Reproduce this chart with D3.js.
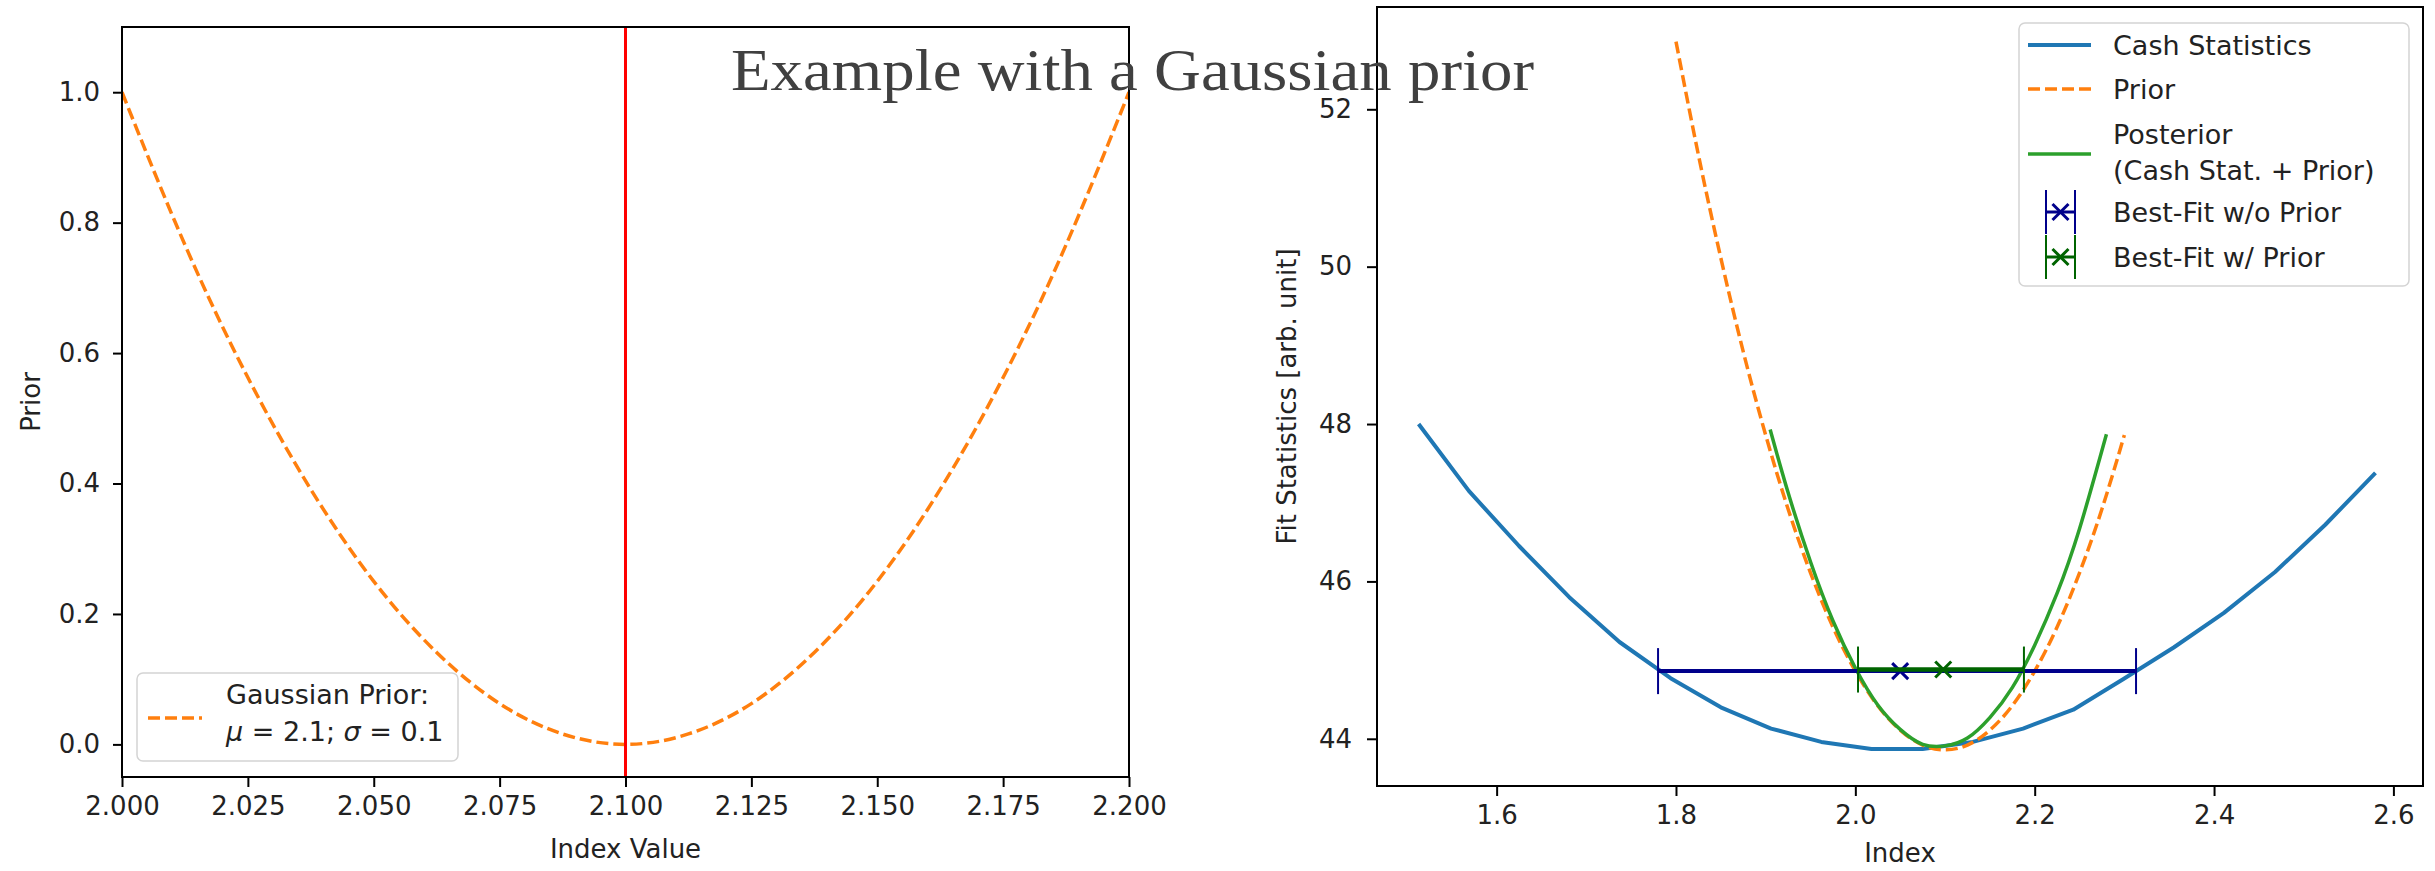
<!DOCTYPE html>
<meta charset="utf-8">
<style>
body { margin: 0; background: #fff; }
svg { display: block; }
.axis text { font: 26px "DejaVu Sans", sans-serif; fill: #222; }
.axis line { stroke: #000; stroke-width: 2px; }
.axis path { display: none; }
.frame { fill: none; stroke: #000; stroke-width: 2px; }
.lbl { font: 26px "DejaVu Sans", sans-serif; fill: #222; }
.leg text { font: 27px "DejaVu Sans", sans-serif; fill: #222; }
.legbox { fill: #fff; fill-opacity: 0.8; stroke: #d4d4d4; stroke-width: 1.5px; }
</style>
<body>
<svg width="2435" height="871"></svg>
<script src="https://d3js.org/d3.v7.min.js"></script>
<script>

// left panel: the prior alone
var priorIdx = [2.0, 2.0125, 2.025, 2.0375, 2.05, 2.0625, 2.075, 2.0875, 2.1,
                2.1125, 2.125, 2.1375, 2.15, 2.1625, 2.175, 2.1875, 2.2];
var priorVal = [1.0, 0.766, 0.5625, 0.391, 0.25, 0.141, 0.0625, 0.016, 0.0,
                0.016, 0.0625, 0.141, 0.25, 0.391, 0.5625, 0.766, 1.0];
var priorMean = 2.1;

// right panel: fit statistics
var cashIdx = [1.513, 1.569, 1.625, 1.681, 1.737, 1.794, 1.850, 1.906, 1.962, 2.018,
               2.075, 2.131, 2.187, 2.243, 2.299, 2.355, 2.411, 2.468, 2.524, 2.580];
var cashVal = [48.00, 47.15, 46.45, 45.80, 45.23, 44.77, 44.40, 44.13, 43.96, 43.87,
               43.87, 43.96, 44.13, 44.37, 44.76, 45.16, 45.60, 46.12, 46.72, 47.38];

var prIdx = [1.800, 1.825, 1.850, 1.875, 1.900, 1.925, 1.950, 1.975, 2.000, 2.025, 2.050,
             2.075, 2.100, 2.125, 2.150, 2.175, 2.200, 2.225, 2.250, 2.275, 2.300];
var prVal = [52.86, 51.42, 50.11, 48.92, 47.86, 46.92, 46.11, 45.42, 44.86, 44.42, 44.11,
             43.92, 43.86, 43.92, 44.11, 44.42, 44.86, 45.42, 46.11, 46.92, 47.86];

var postIdx = [1.905, 1.925, 1.950, 1.975, 2.000, 2.025, 2.050, 2.075, 2.100,
               2.125, 2.150, 2.175, 2.200, 2.225, 2.250, 2.280];
var postVal = [47.93, 47.13, 46.25, 45.50, 44.90, 44.43, 44.12, 43.93, 43.91,
               44.01, 44.27, 44.65, 45.19, 45.85, 46.67, 47.87];

// best fits: [center, low, high, statistic]
var fitNoPrior = [2.050, 1.780, 2.313, 44.86];
var fitPrior   = [2.098, 2.003, 2.188, 44.88];

var leftXTicks = [2.0, 2.025, 2.05, 2.075, 2.1, 2.125, 2.15, 2.175, 2.2];
var leftYTicks = [0.0, 0.2, 0.4, 0.6, 0.8, 1.0];
var rightXTicks = [1.6, 1.8, 2.0, 2.2, 2.4, 2.6];
var rightYTicks = [44, 46, 48, 50, 52];

var legendRight = ["Cash Statistics", "Prior", ["Posterior", "(Cash Stat. + Prior)"],
                   "Best-Fit w/o Prior", "Best-Fit w/ Prior"];

var C = {blue: "#1f77b4", orange: "#ff7f0e", green: "#2ca02c",
         navy: "#00008b", dgreen: "#006400", red: "#ff0000"};

var svg = d3.select("svg");
var defs = svg.append("defs");

function zip(a, b) { return a.map(function(v, i) { return [v, b[i]]; }); }

// ---------- left panel ----------
var L = {x0: 122, x1: 1129, y0: 27, y1: 777};
var xL = d3.scaleLinear().domain([2.0, 2.2]).range([L.x0, L.x1]),
    yL = d3.scaleLinear().domain([-0.05, 1.1]).range([L.y1, L.y0]);

defs.append("clipPath").attr("id", "clipL").append("rect")
    .attr("x", L.x0).attr("y", L.y0).attr("width", L.x1 - L.x0).attr("height", L.y1 - L.y0);

var gL = svg.append("g");

gL.append("g").attr("class", "axis")
    .attr("transform", "translate(0," + L.y1 + ")")
    .call(d3.axisBottom(xL).tickValues(leftXTicks).tickFormat(d3.format(".3f"))
      .tickSize(10).tickPadding(10));

gL.append("g").attr("class", "axis")
    .attr("transform", "translate(" + L.x0 + ",0)")
    .call(d3.axisLeft(yL).tickValues(leftYTicks).tickFormat(d3.format(".1f"))
      .tickSize(9).tickPadding(13));

var pL = gL.append("g").attr("clip-path", "url(#clipL)");

pL.append("path")
    .datum(zip(priorIdx, priorVal))
    .attr("fill", "none")
    .attr("stroke", C.orange)
    .attr("stroke-width", 3.5)
    .attr("stroke-dasharray", "12,5")
    .attr("d", d3.line().x(function(d) { return xL(d[0]); }).y(function(d) { return yL(d[1]); })
      .curve(d3.curveNatural));

pL.append("line")
    .attr("x1", xL(priorMean)).attr("x2", xL(priorMean))
    .attr("y1", L.y0).attr("y2", L.y1)
    .attr("stroke", C.red).attr("stroke-width", 3);

gL.append("rect").attr("class", "frame")
    .attr("x", L.x0).attr("y", L.y0).attr("width", L.x1 - L.x0).attr("height", L.y1 - L.y0);

gL.append("text").attr("class", "lbl")
    .attr("x", (L.x0 + L.x1) / 2).attr("y", 858)
    .attr("text-anchor", "middle").text("Index Value");

gL.append("text").attr("class", "lbl")
    .attr("transform", "translate(40," + (L.y0 + L.y1) / 2 + ") rotate(-90)")
    .attr("text-anchor", "middle").text("Prior");

// left legend
var legL = gL.append("g").attr("class", "leg");
legL.append("rect").attr("class", "legbox")
    .attr("x", 137).attr("y", 673).attr("width", 321).attr("height", 88).attr("rx", 6);
legL.append("line")
    .attr("x1", 148).attr("x2", 202).attr("y1", 718).attr("y2", 718)
    .attr("stroke", C.orange).attr("stroke-width", 3.5).attr("stroke-dasharray", "12,5");
legL.append("text").attr("x", 226).attr("y", 704).text("Gaussian Prior:");
var mt = legL.append("text").attr("x", 226).attr("y", 741);
mt.append("tspan").attr("font-style", "italic").text("\u03bc");
mt.append("tspan").text(" = 2.1; ");
mt.append("tspan").attr("font-style", "italic").text("\u03c3");
mt.append("tspan").text(" = 0.1");

// ---------- right panel ----------
var R = {x0: 1377, x1: 2423, y0: 7, y1: 786};
var xR = d3.scaleLinear().domain([1.4666, 2.633]).range([R.x0, R.x1]),
    yR = d3.scaleLinear().domain([43.40, 53.30]).range([R.y1, R.y0]);

defs.append("clipPath").attr("id", "clipR").append("rect")
    .attr("x", R.x0).attr("y", R.y0).attr("width", R.x1 - R.x0).attr("height", R.y1 - R.y0);

var gR = svg.append("g");

gR.append("g").attr("class", "axis")
    .attr("transform", "translate(0," + R.y1 + ")")
    .call(d3.axisBottom(xR).tickValues(rightXTicks).tickFormat(d3.format(".1f"))
      .tickSize(10).tickPadding(10));

gR.append("g").attr("class", "axis")
    .attr("transform", "translate(" + R.x0 + ",0)")
    .call(d3.axisLeft(yR).tickValues(rightYTicks).tickFormat(d3.format("d"))
      .tickSize(10).tickPadding(15));

var pR = gR.append("g").attr("clip-path", "url(#clipR)");

var lineR = d3.line().x(function(d) { return xR(d[0]); }).y(function(d) { return yR(d[1]); });

pR.append("path").datum(zip(cashIdx, cashVal))
    .attr("fill", "none").attr("stroke", C.blue).attr("stroke-width", 4)
    .attr("stroke-linejoin", "round").attr("d", lineR);

pR.append("path").datum(zip(prIdx, prVal))
    .attr("fill", "none").attr("stroke", C.orange).attr("stroke-width", 3.5)
    .attr("stroke-dasharray", "12,5")
    .attr("d", lineR.curve(d3.curveNatural));

pR.append("path").datum(zip(postIdx, postVal))
    .attr("fill", "none").attr("stroke", C.green).attr("stroke-width", 3.5)
    .attr("d", lineR.curve(d3.curveNatural));

function errorbar(g, fit, col, w) {
  var y = yR(fit[3]);
  g.append("line")
      .attr("x1", xR(fit[1])).attr("x2", xR(fit[2])).attr("y1", y).attr("y2", y)
      .attr("stroke", col).attr("stroke-width", w);
  [fit[1], fit[2]].forEach(function(v) {
    g.append("line")
        .attr("x1", xR(v)).attr("x2", xR(v)).attr("y1", y - 23).attr("y2", y + 23)
        .attr("stroke", col).attr("stroke-width", 2);
  });
  marker(g, xR(fit[0]), y, col);
}

function marker(g, cx, cy, col) {
  var s = 8;
  g.append("path")
      .attr("d", "M" + (cx - s) + "," + (cy - s) + "L" + (cx + s) + "," + (cy + s) +
                 "M" + (cx - s) + "," + (cy + s) + "L" + (cx + s) + "," + (cy - s))
      .attr("stroke", col).attr("stroke-width", 3).attr("fill", "none");
}

errorbar(pR, fitNoPrior, C.navy, 4);
errorbar(pR, fitPrior, C.dgreen, 4.5);

gR.append("rect").attr("class", "frame")
    .attr("x", R.x0).attr("y", R.y0).attr("width", R.x1 - R.x0).attr("height", R.y1 - R.y0);

gR.append("text").attr("class", "lbl")
    .attr("x", (R.x0 + R.x1) / 2).attr("y", 862)
    .attr("text-anchor", "middle").text("Index");

gR.append("text").attr("class", "lbl")
    .attr("transform", "translate(1296," + (R.y0 + R.y1) / 2 + ") rotate(-90)")
    .attr("text-anchor", "middle").text("Fit Statistics [arb. unit]");

// right legend
var legR = gR.append("g").attr("class", "leg");
legR.append("rect").attr("class", "legbox")
    .attr("x", 2019).attr("y", 23).attr("width", 390).attr("height", 263).attr("rx", 6);

var rowY = [45, 89, 154, 212, 257];
var tx = 2113;
legR.append("line").attr("x1", 2028).attr("x2", 2091).attr("y1", rowY[0]).attr("y2", rowY[0])
    .attr("stroke", C.blue).attr("stroke-width", 4);
legR.append("line").attr("x1", 2028).attr("x2", 2091).attr("y1", rowY[1]).attr("y2", rowY[1])
    .attr("stroke", C.orange).attr("stroke-width", 3.5).attr("stroke-dasharray", "12,5");
legR.append("line").attr("x1", 2028).attr("x2", 2091).attr("y1", rowY[2]).attr("y2", rowY[2])
    .attr("stroke", C.green).attr("stroke-width", 3.5);

[[rowY[3], C.navy], [rowY[4], C.dgreen]].forEach(function(r) {
  var y = r[0], col = r[1];
  legR.append("line").attr("x1", 2046).attr("x2", 2075).attr("y1", y).attr("y2", y)
      .attr("stroke", col).attr("stroke-width", 3);
  [2046, 2075].forEach(function(x) {
    legR.append("line").attr("x1", x).attr("x2", x).attr("y1", y - 22).attr("y2", y + 22)
        .attr("stroke", col).attr("stroke-width", 2);
  });
  marker(legR, 2060.5, y, col);
});

legR.append("text").attr("x", tx).attr("y", rowY[0] + 10).text(legendRight[0]);
legR.append("text").attr("x", tx).attr("y", rowY[1] + 10).text(legendRight[1]);
legR.append("text").attr("x", tx).attr("y", 144).text(legendRight[2][0]);
legR.append("text").attr("x", tx).attr("y", 180).text(legendRight[2][1]);
legR.append("text").attr("x", tx).attr("y", rowY[3] + 10).text(legendRight[3]);
legR.append("text").attr("x", tx).attr("y", rowY[4] + 10).text(legendRight[4]);

// overlaid title
svg.append("text")
    .attr("x", 731).attr("y", 90)
    .attr("textLength", 803).attr("lengthAdjust", "spacingAndGlyphs")
    .style("font", "60px 'Liberation Serif', serif")
    .style("fill", "#404040")
    .text("Example with a Gaussian prior");

</script>
</body>
